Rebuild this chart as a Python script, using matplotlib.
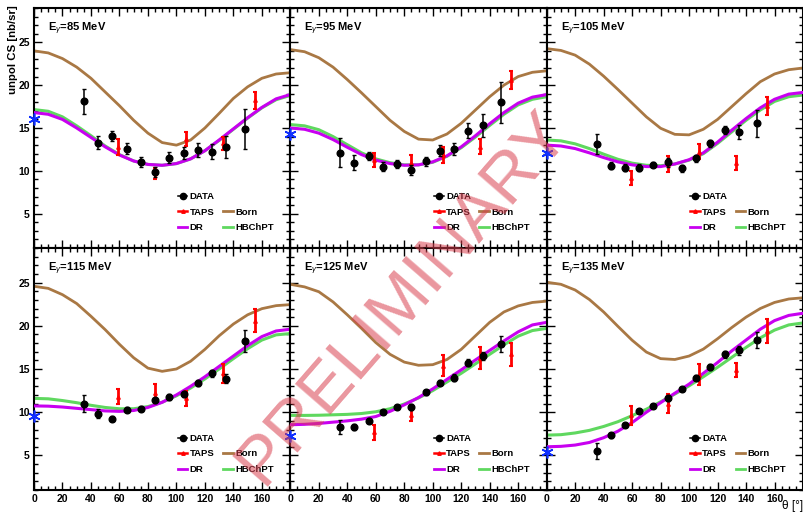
import matplotlib
matplotlib.use('Agg')
import matplotlib.pyplot as plt
from matplotlib.lines import Line2D
from matplotlib.ticker import MultipleLocator, FixedLocator

plt.rcParams['font.family'] = ['Liberation Sans', 'DejaVu Sans']
plt.rcParams['mathtext.fontset'] = 'custom'
plt.rcParams['mathtext.rm'] = 'Liberation Sans'
plt.rcParams['mathtext.it'] = 'Liberation Sans:italic'

# ---------------- data ----------------
energies = [85, 95, 105, 115, 125, 135]
theta_curve = [0, 10, 20, 30, 40, 50, 60, 70, 80, 90, 100, 110, 120, 130, 140, 150, 160, 170, 180]
data_theta = [35, 45, 55, 65, 75, 85, 95, 105, 115, 125, 135, 148]
taps_theta = [59, 85, 107, 133, 155]
x_ticks = [0, 20, 40, 60, 80, 100, 120, 140, 160]
y_ticks = [5, 10, 15, 20, 25]

# 85 MeV
data_85 = [18.1, 13.3, 14.05, 12.6, 11.05, 9.9, 11.55, 12.1, 12.45, 12.25, 12.75, 14.9]
derr_85 = [1.5, 0.8, 0.6, 0.6, 0.6, 0.6, 0.6, 0.7, 0.8, 0.9, 1.3, 2.3]
taps_85 = [12.8, 9.7, 13.7, 13.2, 18.25]
terr_85 = [0.9, 0.6, 0.8, 0.8, 1.0]
star_85 = 16.05
born_85 = [24.0, 23.76, 23.1, 22.1, 20.8, 19.2, 17.6, 15.9, 14.4, 13.3, 13.0, 13.6, 15.0, 16.7, 18.45, 19.8, 20.8, 21.3, 21.45]
dr_85 = [16.8, 16.6, 16.0, 15.0, 13.9, 12.8, 11.85, 11.15, 10.75, 10.65, 10.85, 11.4, 12.35, 13.6, 14.9, 16.2, 17.4, 18.4, 18.9]
hb_85 = [17.15, 16.95, 16.3, 15.25, 14.1, 12.9, 11.9, 11.15, 10.75, 10.65, 10.85, 11.4, 12.35, 13.55, 14.85, 16.15, 17.35, 18.3, 18.8]

# 95 MeV
data_95 = [12.13, 10.97, 11.74, 10.5, 10.78, 10.12, 11.1, 12.36, 12.5, 14.7, 15.3, 18.0]
derr_95 = [1.65, 0.9, 0.5, 0.5, 0.5, 0.6, 0.5, 0.6, 0.7, 0.9, 1.3, 2.4]
taps_95 = [11.28, 10.9, 11.86, 12.83, 20.6]
terr_95 = [0.8, 1.0, 0.9, 0.85, 1.1]
star_95 = 14.3
born_95 = [24.15, 23.9, 23.2, 22.1, 20.65, 19.1, 17.5, 15.9, 14.6, 13.7, 13.6, 14.3, 15.55, 17.1, 18.65, 20.0, 21.0, 21.5, 21.67]
dr_95 = [15.0, 14.85, 14.4, 13.65, 12.75, 11.9, 11.25, 10.85, 10.65, 10.7, 11.05, 11.75, 12.8, 14.1, 15.5, 16.8, 17.9, 18.6, 18.9]
hb_95 = [15.4, 15.25, 14.8, 14.0, 13.05, 12.1, 11.4, 10.95, 10.7, 10.7, 11.0, 11.7, 12.7, 13.95, 15.3, 16.6, 17.7, 18.35, 18.65]

# 105 MeV
data_105 = [13.14, 10.62, 10.39, 10.39, 10.7, 11.0, 10.3, 11.47, 13.2, 14.77, 14.5, 15.54]
derr_105 = [1.15, 0.4, 0.4, 0.4, 0.3, 0.5, 0.4, 0.4, 0.4, 0.5, 0.8, 1.6]
taps_105 = [9.15, 10.8, 12.25, 10.9, 17.56]
terr_105 = [0.8, 0.9, 0.85, 0.85, 1.1]
star_105 = 12.13
born_105 = [24.26, 24.05, 23.5, 22.45, 21.05, 19.5, 17.9, 16.3, 14.97, 14.26, 14.2, 14.85, 16.0, 17.5, 19.0, 20.4, 21.3, 21.8, 22.0]
dr_105 = [13.0, 12.9, 12.6, 12.1, 11.55, 11.05, 10.7, 10.5, 10.5, 10.8, 11.3, 12.1, 13.35, 14.75, 16.1, 17.35, 18.35, 18.95, 19.15]
hb_105 = [13.6, 13.5, 13.15, 12.6, 11.95, 11.35, 10.9, 10.65, 10.6, 10.8, 11.25, 12.0, 13.2, 14.55, 15.9, 17.1, 18.1, 18.65, 18.85]

# 115 MeV
data_115 = [11.0, 9.82, 9.24, 10.3, 10.41, 11.4, 11.75, 12.1, 13.35, 14.53, 13.9, 18.25]
derr_115 = [1.0, 0.5, 0.3, 0.3, 0.3, 0.3, 0.3, 0.3, 0.35, 0.4, 0.5, 1.3]
taps_115 = [11.8, 12.2, 11.6, 14.5, 20.6]
terr_115 = [0.9, 1.1, 0.85, 1.1, 1.3]
star_115 = 9.55
born_115 = [24.57, 24.33, 23.6, 22.57, 21.1, 19.55, 17.86, 16.3, 15.1, 14.73, 15.0, 15.9, 17.27, 18.84, 20.2, 21.27, 21.98, 22.33, 22.45]
dr_115 = [10.73, 10.7, 10.6, 10.45, 10.3, 10.15, 10.1, 10.2, 10.55, 11.15, 12.0, 13.0, 14.1, 15.3, 16.5, 17.7, 18.75, 19.4, 19.6]
hb_115 = [11.6, 11.55, 11.35, 11.1, 10.8, 10.55, 10.4, 10.4, 10.65, 11.15, 11.9, 12.8, 13.85, 15.0, 16.2, 17.35, 18.35, 18.95, 19.1]

# 125 MeV
data_125 = [8.33, 8.25, 9.04, 10.02, 10.6, 10.6, 12.3, 13.43, 14.0, 15.7, 16.5, 17.9]
derr_125 = [0.8, 0.35, 0.3, 0.25, 0.25, 0.35, 0.3, 0.3, 0.4, 0.4, 0.5, 0.9]
taps_125 = [7.67, 9.63, 15.4, 16.3, 16.7]
terr_125 = [0.9, 0.7, 1.25, 1.3, 1.3]
star_125 = 7.2
born_125 = [24.8, 24.5, 23.94, 22.76, 21.27, 19.7, 18.06, 16.7, 15.8, 15.43, 15.5, 16.1, 17.27, 18.84, 20.4, 21.6, 22.3, 22.7, 22.85]
dr_125 = [8.55, 8.6, 8.7, 8.85, 9.0, 9.2, 9.5, 10.1, 10.85, 11.7, 12.7, 13.8, 14.9, 16.05, 17.15, 18.25, 19.3, 20.1, 20.4]
hb_125 = [9.63, 9.63, 9.65, 9.7, 9.75, 9.85, 10.05, 10.4, 10.95, 11.65, 12.5, 13.5, 14.5, 15.6, 16.7, 17.8, 18.8, 19.45, 19.7]

# 135 MeV
data_135 = [5.5, 7.35, 8.53, 10.14, 10.73, 11.59, 12.65, 14.0, 15.2, 16.7, 17.16, 18.37]
derr_135 = [0.9, 0.3, 0.25, 0.25, 0.25, 0.3, 0.25, 0.3, 0.35, 0.4, 0.5, 0.9]
taps_135 = [9.63, 11.0, 14.33, 14.9, 19.43]
terr_135 = [1.1, 1.1, 1.2, 0.85, 1.4]
star_135 = 5.43
born_135 = [25.04, 24.8, 24.14, 23.04, 21.6, 19.94, 18.33, 16.96, 16.2, 16.1, 16.5, 17.3, 18.5, 19.8, 21.0, 22.0, 22.7, 23.1, 23.24]
dr_135 = [6.0, 6.05, 6.2, 6.5, 7.05, 7.8, 8.8, 10.0, 11.1, 12.2, 13.25, 14.5, 15.75, 17.1, 18.35, 19.6, 20.6, 21.2, 21.45]
hb_135 = [7.35, 7.4, 7.6, 7.9, 8.35, 8.9, 9.6, 10.35, 11.2, 12.1, 13.05, 14.1, 15.2, 16.35, 17.5, 18.6, 19.5, 20.1, 20.33]

panels = [
    (data_85, derr_85, taps_85, terr_85, star_85, born_85, dr_85, hb_85),
    (data_95, derr_95, taps_95, terr_95, star_95, born_95, dr_95, hb_95),
    (data_105, derr_105, taps_105, terr_105, star_105, born_105, dr_105, hb_105),
    (data_115, derr_115, taps_115, terr_115, star_115, born_115, dr_115, hb_115),
    (data_125, derr_125, taps_125, terr_125, star_125, born_125, dr_125, hb_125),
    (data_135, derr_135, taps_135, terr_135, star_135, born_135, dr_135, hb_135),
]

# ---------------- style ----------------
C_BORN = '#A97844'
C_DR = '#C800F0'
C_HB = '#5FD85F'
C_TAPS = '#FF0000'
C_STAR = '#1030FF'

W, H = 804, 512
fig = plt.figure(figsize=(W / 100, H / 100), dpi=100)

x0, x1 = 34, 803
pw = (x1 - x0) / 3.0
rows_px = [(8, 248), (248, 490)]

for i, (E, pan) in enumerate(zip(energies, panels)):
    r, c = divmod(i, 3)
    top_px, bot_px = rows_px[r]
    ax = fig.add_axes([(x0 + c * pw) / W, 1 - bot_px / H, pw / W, (bot_px - top_px) / H])
    dvals, derr, tvals, terr, star, born, dr, hb = pan

    ax.plot(theta_curve, born, color=C_BORN, lw=2.0, zorder=2)
    ax.plot(theta_curve, hb, color=C_HB, lw=2.2, zorder=2)
    ax.plot(theta_curve, dr, color=C_DR, lw=2.2, zorder=3)

    ax.errorbar(taps_theta, tvals, yerr=terr, fmt='^', color=C_TAPS, ms=2.5,
                elinewidth=2.0, capsize=1.2, capthick=1.5, zorder=4)
    ax.errorbar(data_theta, dvals, yerr=derr, fmt='o', color='k', ms=4.8,
                elinewidth=1.1, capsize=1.5, capthick=1.0, zorder=5)
    ax.plot([0], [star], linestyle='none', marker=(6, 2, 0), ms=8.5, mew=1.2,
            color=C_STAR, clip_on=False, zorder=6)

    ax.set_xlim(0, 180)
    ax.set_ylim(1, 29)
    ax.xaxis.set_major_locator(FixedLocator(x_ticks))
    ax.xaxis.set_minor_locator(MultipleLocator(5))
    ax.yaxis.set_major_locator(FixedLocator(y_ticks))
    ax.yaxis.set_minor_locator(MultipleLocator(1))
    ax.tick_params(which='both', direction='in', top=True, right=True, width=1.0,
                   labelsize=7.5, pad=3)
    ax.tick_params(which='major', length=6)
    ax.tick_params(which='minor', length=3)
    for sp in ax.spines.values():
        sp.set_linewidth(1.5)
    if c != 0:
        ax.set_yticklabels([])
    else:
        for lab in ax.get_yticklabels():
            lab.set_fontweight('bold')
    if r != 1:
        ax.set_xticklabels([])
    else:
        for lab in ax.get_xticklabels():
            lab.set_fontweight('bold')

    ax.text(0.055, 0.915, r'E$_{\gamma}$=%d MeV' % E, transform=ax.transAxes,
            fontsize=8, fontweight='bold', ha='left', va='center')

    h_data = Line2D([], [], color='k', marker='o', ms=4.5, lw=1.1)
    h_taps = Line2D([], [], color=C_TAPS, marker='^', ms=2.5, lw=1.8)
    h_dr = Line2D([], [], color=C_DR, lw=2.0)
    h_blank = Line2D([], [], linestyle='none')
    h_born = Line2D([], [], color=C_BORN, lw=2.0)
    h_hb = Line2D([], [], color=C_HB, lw=2.0)
    ax.legend([h_data, h_taps, h_dr, h_blank, h_born, h_hb],
              ['DATA', 'TAPS', 'DR', ' ', 'Born', 'HBChPT'],
              ncol=2, loc='center left', bbox_to_anchor=(0.561, 0.149),
              frameon=False, borderpad=0, borderaxespad=0,
              handlelength=1.0, handletextpad=0.25, columnspacing=0.9,
              labelspacing=0.7, prop={'size': 6.8, 'weight': 'bold'})

fig.text(13 / W, 1 - 5 / H, 'unpol CS [nb/sr]', rotation=90, ha='center', va='top',
         fontsize=8.2, fontweight='bold')
fig.text(803 / W, 0.0, 'θ [°]', ha='right', va='bottom', fontsize=8.5)

fig.text(403 / W, 1 - 298 / H, 'PRELIMINARY', rotation=49, ha='center', va='center',
         fontsize=50, color='#D9404F', alpha=0.55, zorder=20)

fig.savefig('out.png', dpi=100)
